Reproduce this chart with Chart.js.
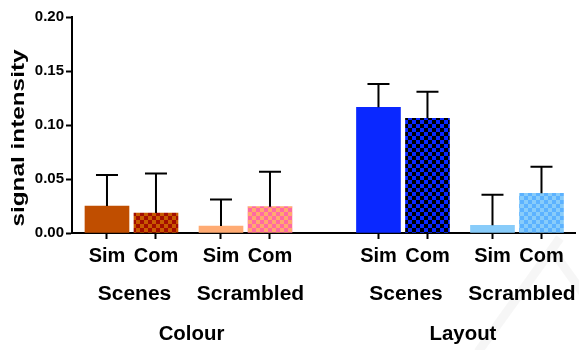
<!DOCTYPE html>
<html>
<head>
<meta charset="utf-8">
<script src="https://cdn.jsdelivr.net/npm/chart.js@4.4.1/dist/chart.umd.min.js"></script>
<style>
  html, body { margin: 0; padding: 0; background: #ffffff; }
  #wrap { width: 579px; height: 350px; position: relative; }
</style>
</head>
<body>
<div id="wrap"><canvas id="chart" width="579" height="350"></canvas></div>
<script>
// Condition labels under each bar
const categories = ['Sim', 'Com', 'Sim', 'Com', 'Sim', 'Com', 'Sim', 'Com'];
// Stimulus type, one per pair of bars
const stimulusLabels = ['Scenes', 'Scrambled', 'Scenes', 'Scrambled'];
// Feature, one per group of four bars
const featureLabels = ['Colour', 'Layout'];
// Mean signal intensity per bar
const means = [0.025, 0.0185, 0.0065, 0.0244, 0.1164, 0.1062, 0.0071, 0.0368];
// Upper error (SEM) per bar
const errors = [0.0287, 0.0365, 0.0245, 0.0324, 0.0216, 0.0246, 0.0284, 0.0246];
// Y axis tick values
const yTicks = [0.00, 0.05, 0.10, 0.15, 0.20];

const FONT = '"Liberation Sans", Arial, sans-serif';

// Spacing between bar centres (axis units)
const BAR_STEP = 1;
const PAIR_STEP = 1.327;
const GROUP_STEP = 2.214;

function barPositions(n) {
  const pos = [];
  let x = 0;
  for (let i = 0; i < n; i++) {
    if (i > 0) {
      if (i % 4 === 0) x += GROUP_STEP;
      else if (i % 2 === 0) x += PAIR_STEP;
      else x += BAR_STEP;
    }
    pos.push(x);
  }
  return pos;
}
const xPos = barPositions(categories.length);

function checker(a, b, size) {
  const cv = document.createElement('canvas');
  cv.width = size * 2; cv.height = size * 2;
  const g = cv.getContext('2d');
  g.fillStyle = a; g.fillRect(0, 0, size * 2, size * 2);
  g.fillStyle = b;
  g.fillRect(0, 0, size, size);
  g.fillRect(size, size, size, size);
  return g.createPattern(cv, 'repeat');
}

const fills = [
  '#C04E00',
  checker('#C85A00', '#A30E00', 4),
  '#FFAB73',
  checker('#FFAA6E', '#FF69A5', 4),
  '#0A28FF',
  checker('#0A28FF', '#000000', 4),
  '#88CCFA',
  checker('#88CCFA', '#5CB2FF', 4)
];

// draws text stretched along its baseline
function wideText(ctx, text, x, y, sx) {
  ctx.save();
  ctx.translate(x, y);
  ctx.scale(sx, 1);
  ctx.fillText(text, 0, 0);
  ctx.restore();
}

const overlay = {
  id: 'overlay',
  beforeDraw(chart) {
    // faint background stroke in the lower right
    const ctx = chart.ctx;
    ctx.save();
    ctx.strokeStyle = 'rgba(0,0,0,0.035)';
    ctx.lineWidth = 9;
    ctx.beginPath();
    ctx.moveTo(478, 352);
    ctx.lineTo(560, 238);
    ctx.moveTo(552, 250);
    ctx.lineTo(585, 296);
    ctx.stroke();
    ctx.restore();
  },
  afterDatasetsDraw(chart) {
    const ctx = chart.ctx;
    const y = chart.scales.y;
    const meta = chart.getDatasetMeta(0);
    ctx.save();
    ctx.strokeStyle = '#000000';
    ctx.lineWidth = 2;
    meta.data.forEach((bar, i) => {
      const top = y.getPixelForValue(means[i]);
      const tip = y.getPixelForValue(means[i] + errors[i]);
      ctx.beginPath();
      ctx.moveTo(bar.x, top);
      ctx.lineTo(bar.x, tip);
      ctx.moveTo(bar.x - 11, tip);
      ctx.lineTo(bar.x + 11, tip);
      ctx.stroke();
    });
    ctx.restore();
  },
  afterDraw(chart) {
    const ctx = chart.ctx;
    const x = chart.scales.x;
    ctx.save();
    ctx.fillStyle = '#000000';
    ctx.textAlign = 'center';
    ctx.textBaseline = 'middle';
    ctx.font = 'bold 20px ' + FONT;
    stimulusLabels.forEach((lab, p) => {
      const cx = (x.getPixelForValue(xPos[p * 2]) + x.getPixelForValue(xPos[p * 2 + 1])) / 2;
      const shift = p % 2 === 0 ? 3 : 5;
      wideText(ctx, lab, cx + shift, 294, 1.05);
    });
    featureLabels.forEach((lab, g) => {
      const cx = (x.getPixelForValue(xPos[g * 4]) + x.getPixelForValue(xPos[g * 4 + 3])) / 2;
      wideText(ctx, lab, cx + 3, 334, 1.02);
    });
    // y axis title
    ctx.translate(19, 138);
    ctx.rotate(-Math.PI / 2);
    ctx.scale(1.28, 1);
    ctx.font = 'bold 19px ' + FONT;
    ctx.fillText('signal intensity', 0, 0);
    ctx.restore();
  }
};

new Chart(document.getElementById('chart'), {
  type: 'bar',
  data: {
    datasets: [{
      data: means.map((v, i) => ({ x: xPos[i], y: v })),
      backgroundColor: fills,
      borderWidth: 0,
      barThickness: 44
    }]
  },
  options: {
    responsive: false,
    animation: false,
    layout: { padding: { top: 17, right: 4, left: 0, bottom: 0 } },
    plugins: { legend: { display: false }, tooltip: { enabled: false } },
    scales: {
      x: {
        type: 'linear',
        offset: false,
        min: -0.714,
        max: xPos[xPos.length - 1] + 0.684,
        afterBuildTicks(scale) { scale.ticks = xPos.map(v => ({ value: v })); },
        afterFit(scale) { scale.height = 117; },
        grid: { offset: false, drawOnChartArea: false, drawTicks: true, tickLength: 6, tickColor: '#000', tickWidth: 2 },
        border: { color: '#000', width: 2 },
        ticks: {
          autoSkip: false,
          maxRotation: 0,
          padding: 5,
          color: '#000',
          font: { family: FONT, size: 20, weight: 'bold' },
          callback: (v, i) => categories[i]
        }
      },
      y: {
        min: 0,
        max: 0.2,
        afterBuildTicks(scale) { scale.ticks = yTicks.map(v => ({ value: v })); },
        afterFit(scale) { scale.width = 72; },
        grid: { drawOnChartArea: false, drawTicks: true, tickLength: 6, tickColor: '#000', tickWidth: 2 },
        border: { color: '#000', width: 2 },
        ticks: {
          padding: 2,
          color: '#000',
          font: { family: FONT, size: 15, weight: 'bold' },
          callback: v => v.toFixed(2)
        }
      }
    }
  },
  plugins: [overlay]
});
</script>
</body>
</html>
